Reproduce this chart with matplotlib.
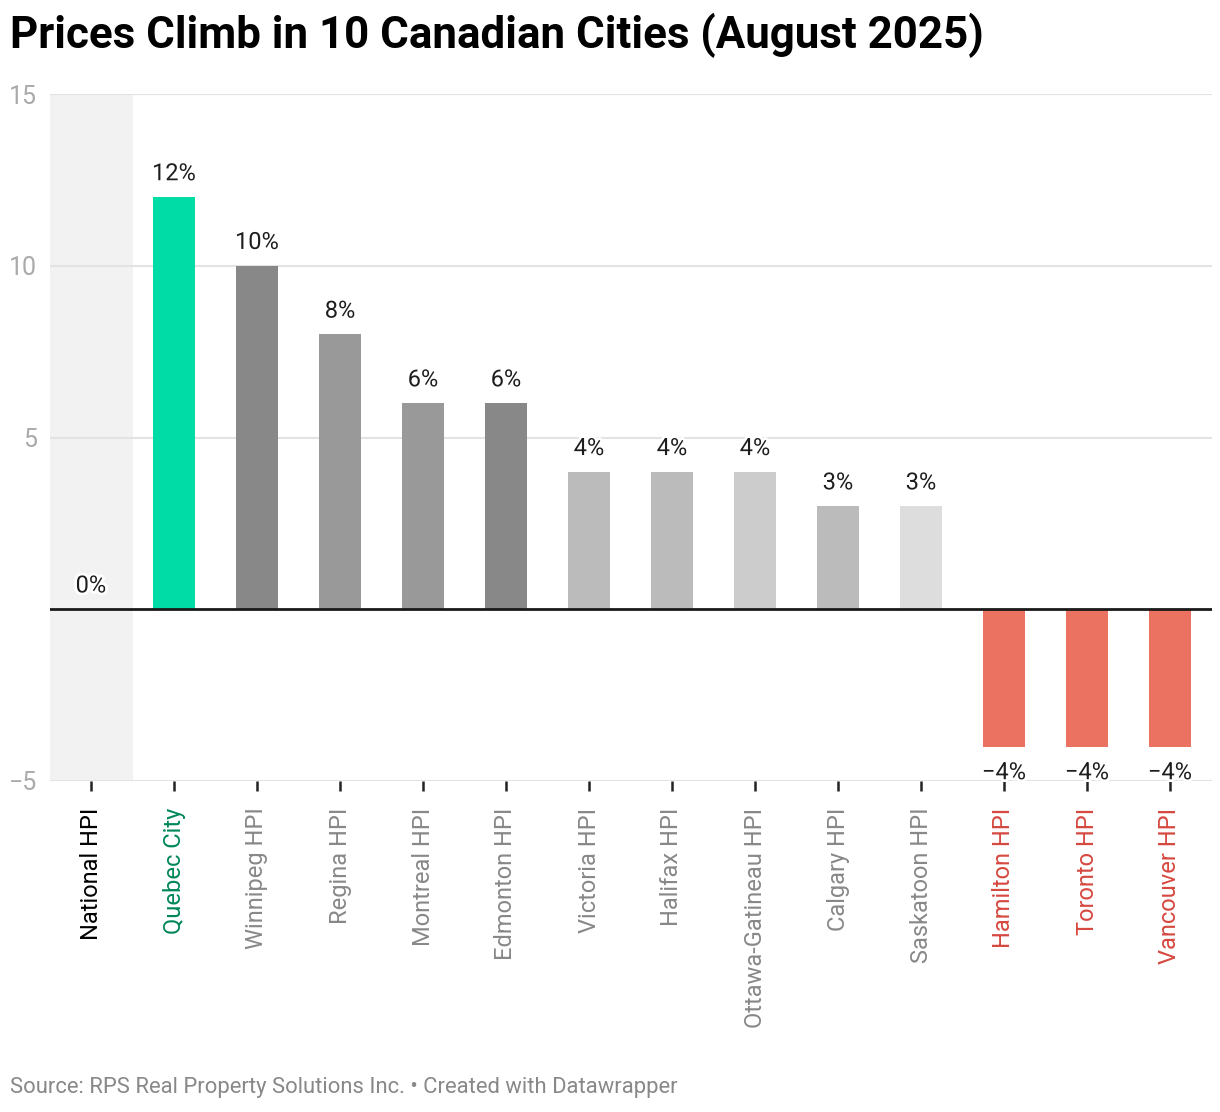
import matplotlib
matplotlib.use("Agg")
import matplotlib.pyplot as plt
import matplotlib.patheffects as pe

plt.rcParams['font.family'] = ['Roboto', 'DejaVu Sans']

categories = ["National HPI", "Quebec City", "Winnipeg HPI", "Regina HPI", "Montreal HPI",
              "Edmonton HPI", "Victoria HPI", "Halifax HPI", "Ottawa-Gatineau HPI",
              "Calgary HPI", "Saskatoon HPI", "Hamilton HPI", "Toronto HPI", "Vancouver HPI"]
values = [0, 12, 10, 8, 6, 6, 4, 4, 4, 3, 3, -4, -4, -4]
value_labels = ["0%", "12%", "10%", "8%", "6%", "6%", "4%", "4%", "4%", "3%", "3%",
                "\u22124%", "\u22124%", "\u22124%"]
bar_colors = ["#888888", "#00dca5", "#888888", "#999999", "#999999", "#888888",
              "#bbbbbb", "#bbbbbb", "#cccccc", "#bbbbbb", "#dddddd",
              "#eb7261", "#eb7261", "#eb7261"]
label_colors = ["#000000", "#00875a", "#888888", "#888888", "#888888", "#888888",
                "#888888", "#888888", "#888888", "#888888", "#888888",
                "#d6483f", "#d6483f", "#d6483f"]
yticks = [-5, 5, 10, 15]

W, H = 1220, 1112
fig = plt.figure(figsize=(W / 100, H / 100), dpi=100)
ax = fig.add_axes([49.5 / W, 1 - 781 / H, (1211.5 - 49.5) / W, (781 - 94) / H])
ax.set_xlim(-0.5, len(categories) - 0.5)
ax.set_ylim(-5, 15)

# highlight band for National
ax.axvspan(-0.5, 0.5, color="#f2f2f2", zorder=0, lw=0)

for y in [-5, 5, 10, 15]:
    ax.axhline(y, color="#e3e3e3", lw=1.5, zorder=1)
ax.axhline(0, color="#1a1a1a", lw=2, zorder=4)

x = list(range(len(categories)))
ax.bar(x, values, width=0.51, color=bar_colors, zorder=3)

for xi, v, lab in zip(x, values, value_labels):
    if v >= 0:
        ax.annotate(lab, (xi, v), xytext=(0, 8.5), textcoords="offset points",
                    ha="center", va="bottom", fontsize=17, color="#1d1d1d", zorder=5,
                    path_effects=[pe.withStroke(linewidth=4, foreground="white")])
    else:
        ax.annotate(lab, (xi, v), xytext=(0, -10.5), textcoords="offset points",
                    ha="center", va="top", fontsize=17, color="#1d1d1d", zorder=5,
                    path_effects=[pe.withStroke(linewidth=4, foreground="white")])

for s in ax.spines.values():
    s.set_visible(False)

ax.set_yticks(yticks)
ax.set_yticklabels([("\u2212" + str(abs(t))) if t < 0 else str(t) for t in yticks])
ax.tick_params(axis="y", length=0, pad=9, labelsize=18, labelcolor="#aaaaaa")

ax.set_xticks(x)
ax.set_xticklabels(categories, rotation=90, fontsize=17)
ax.tick_params(axis="x", length=7, width=1.8, color="#222222", pad=12, direction="out")
for t, c in zip(ax.get_xticklabels(), label_colors):
    t.set_color(c)
    t.set_va("top")

fig.text(10 / W, 1 - 35 / H, "Prices Climb in 10 Canadian Cities (August 2025)",
         fontsize=31.6, fontweight="bold", color="#000000", ha="left", va="center")
fig.text(10 / W, 1 - 1087 / H,
         "Source: RPS Real Property Solutions Inc. \u2022 Created with Datawrapper",
         fontsize=15.8, color="#888888", ha="left", va="center")

fig.savefig("out.png", dpi=100, facecolor="white")
